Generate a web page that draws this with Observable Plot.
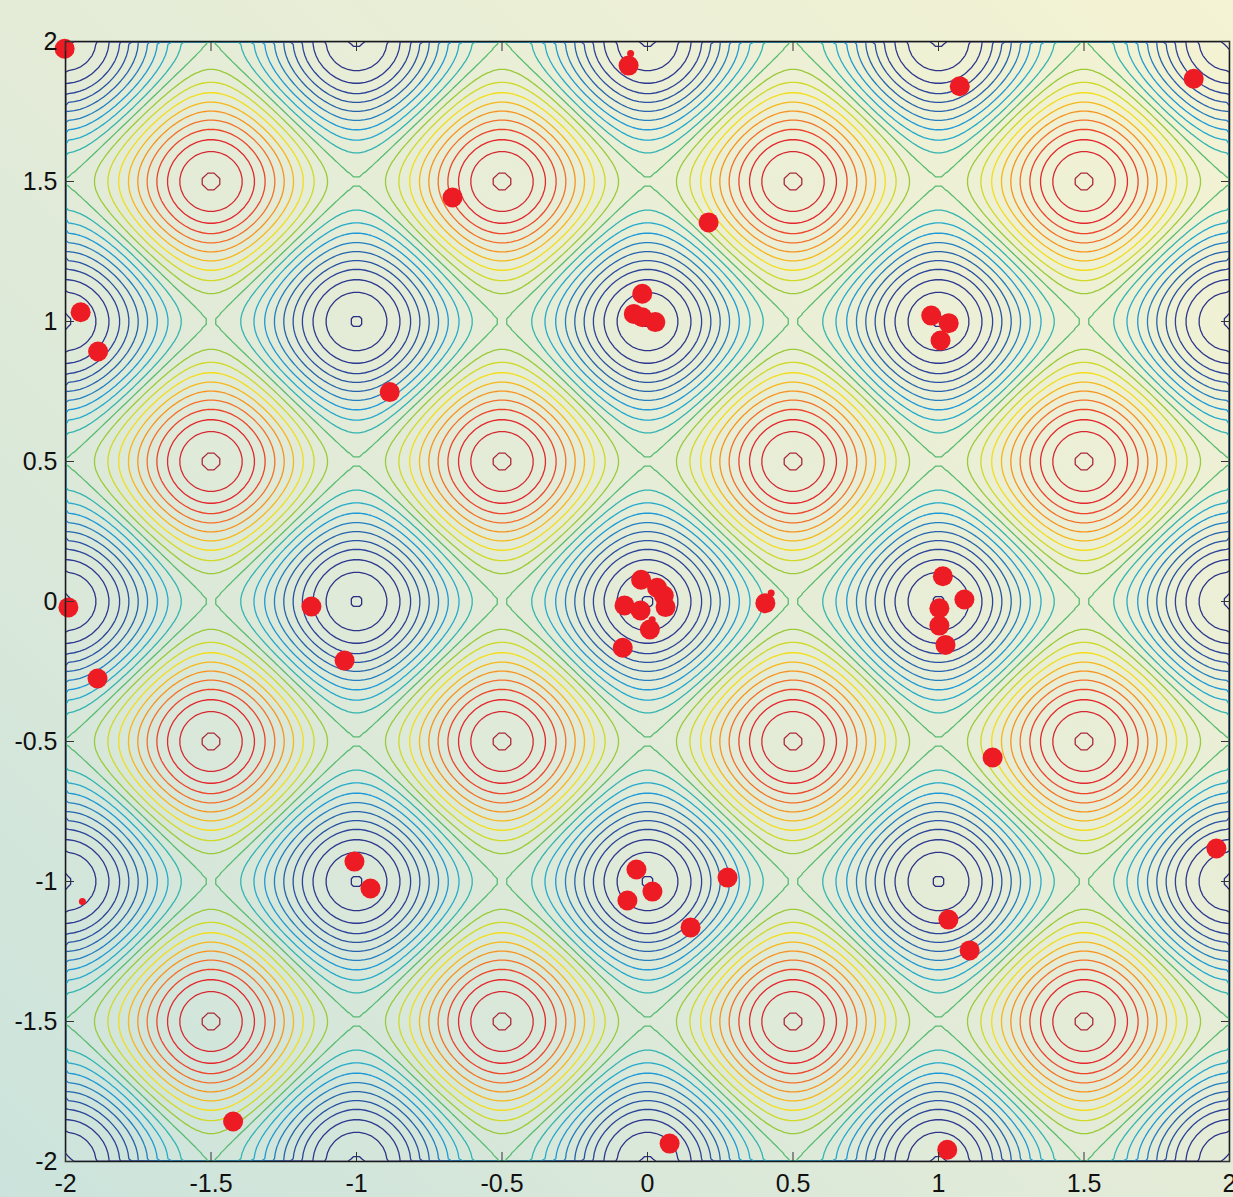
<!DOCTYPE html>
<html>
<head>
<meta charset="utf-8">
<script src="https://cdn.jsdelivr.net/npm/d3@7"></script>
<script src="https://cdn.jsdelivr.net/npm/@observablehq/plot@0.6"></script>
<style>
  html, body { margin: 0; padding: 0; overflow: hidden; }
  body {
    width: 1233px; height: 1197px;
    background: linear-gradient(45deg, #cbe3dc 0%, #e2ebd8 45%, #f4f3d3 100%);
  }
  #chart svg { display: block; }
</style>
</head>
<body>
<div id="chart"></div>
<script>
// ---- data ----
// contour levels of the surface (min ≈ -2 at integer points, max ≈ 2 at half-integer points)
const levels = [-1.99, -1.79, -1.59, -1.39, -1.2, -1.0, -0.8, -0.6, -0.4, -0.2, -0.005,
                0.19, 0.39, 0.59, 0.79, 0.99, 1.19, 1.39, 1.59, 1.78, 1.98];

// large red points
const pointX = [-2.003, -0.065, 1.073, 1.877, -0.67, 0.21, -1.948, -1.888,
                -0.018, -0.047, -0.018, 0.027, 0.975, 1.035, 1.007, -0.886,
                -1.99, -1.155, -1.041, -1.89,
                -0.022, 0.033, 0.056, 0.062, -0.079, -0.024, 0.008, -0.085, 0.405,
                1.015, 1.089, 1.003, 1.003, 1.024, 1.186, 1.955,
                -1.007, -0.952, -0.038, 0.017, -0.069, 0.275, 0.148, 1.034, 1.107,
                -1.424, 0.076, 1.03];
const pointY = [1.974, 1.914, 1.84, 1.867, 1.443, 1.354, 1.033, 0.893,
                1.099, 1.027, 1.015, 0.998, 1.021, 0.994, 0.932, 0.748,
                -0.021, -0.018, -0.211, -0.275,
                0.0775, 0.049, 0.021, -0.02, -0.014, -0.032, -0.1, -0.165, -0.006,
                0.09, 0.007, -0.024, -0.086, -0.155, -0.557, -0.882,
                -0.929, -1.025, -0.957, -1.036, -1.068, -0.986, -1.164, -1.136, -1.246,
                -1.857, -1.936, -1.958];

// small red points
const smallX = [-0.058, 0.425, 0.016, -1.942];
const smallY = [1.957, 0.03, -0.065, -1.071];

// axis ticks
const xTicks = [-2, -1.5, -1, -0.5, 0, 0.5, 1, 1.5, 2];
const yTicks = [-2, -1.5, -1, -0.5, 0, 0.5, 1, 1.5, 2];

// the plotted surface
const surface = (x, y) => -Math.cos(2 * Math.PI * x) - Math.cos(2 * Math.PI * y);

const points = pointX.map((x, i) => ({x, y: pointY[i]}));
const smallPoints = smallX.map((x, i) => ({x, y: smallY[i]}));

// jet-like palette (style)
const jetStops = [0, 0.12, 0.25, 0.35, 0.42, 0.48, 0.52, 0.58, 0.64, 0.72, 0.8, 0.88, 0.96, 1];
const jetColors = ["#2b2f7f", "#2d3a92", "#2563ad", "#1e9ad6", "#2ab2c8", "#3bb59a", "#7ac143",
                   "#c2d52f", "#f2e21f", "#f8a81b", "#f3702a", "#e8272e", "#d02a30", "#a52a38"];

const fmt = (d) => String(d);

const chart = Plot.plot({
  width: 1233,
  height: 1197,
  marginLeft: 65,
  marginRight: 4,
  marginTop: 41,
  marginBottom: 36,
  style: {
    background: "transparent",
    fontFamily: "'Liberation Sans', Arial, Helvetica, sans-serif",
    fontSize: "25px",
    color: "#111",
    overflow: "visible"
  },
  x: {domain: [-2, 2], axis: null},
  y: {domain: [-2, 2], axis: null},
  color: {type: "linear", domain: jetStops.map((t) => -2 + 4 * t), range: jetColors},
  marks: [
    Plot.contour({
      x1: -2, x2: 2, y1: -2, y2: 2,
      width: 200, height: 200,
      value: surface,
      thresholds: levels,
      stroke: "value",
      fill: "none",
      strokeWidth: 1.3,
      clip: true
    }),
    Plot.dot(points, {x: "x", y: "y", r: 10, fill: "#ed1c24", stroke: "none"}),
    Plot.dot(smallPoints, {x: "x", y: "y", r: 3.5, fill: "#ed1c24", stroke: "none"}),
    Plot.frame({stroke: "#1a1a1a", strokeWidth: 1.5}),
    // inward ticks on all four sides
    Plot.axisX(xTicks, {anchor: "bottom", tickSize: -9, fill: "none", stroke: "#333"}),
    Plot.axisX(xTicks, {anchor: "top", tickSize: -9, fill: "none", stroke: "#333"}),
    Plot.axisY(yTicks, {anchor: "left", tickSize: -9, fill: "none", stroke: "#333"}),
    Plot.axisY(yTicks, {anchor: "right", tickSize: -9, fill: "none", stroke: "#333"}),
    // tick labels
    Plot.axisX(xTicks, {anchor: "bottom", tickSize: 0, tickPadding: 13, stroke: "none", fill: "#111", tickFormat: fmt, label: null}),
    Plot.axisY(yTicks, {anchor: "left", tickSize: 0, tickPadding: 8, stroke: "none", fill: "#111", tickFormat: fmt, label: null})
  ]
});

document.getElementById("chart").appendChild(chart);
</script>
</body>
</html>
